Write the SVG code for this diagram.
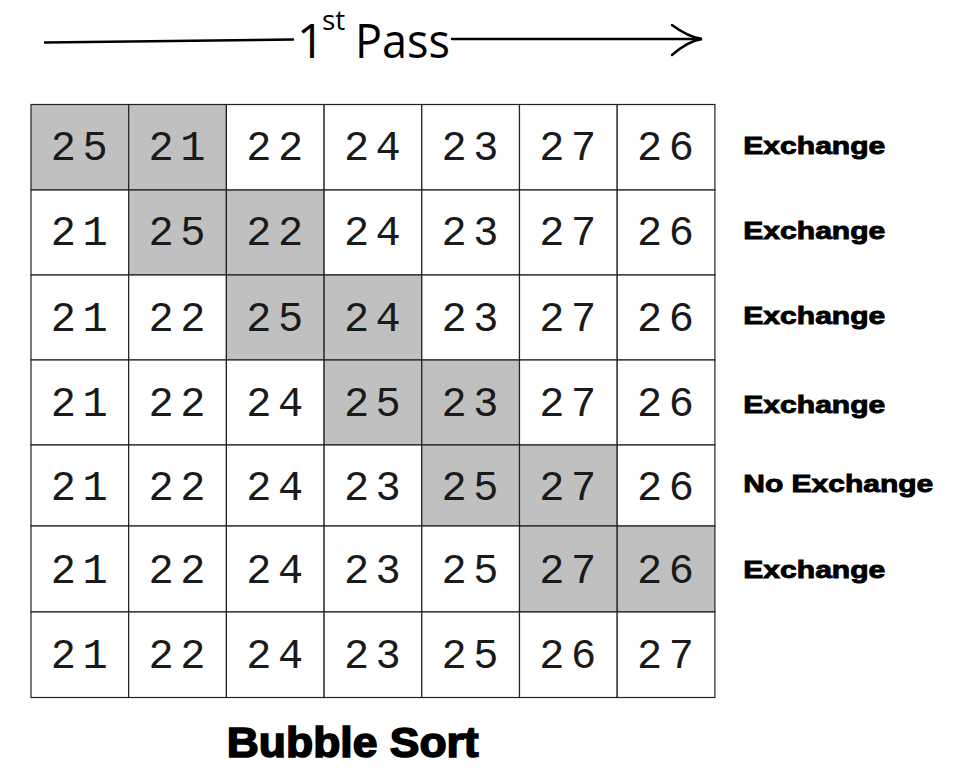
<svg xmlns="http://www.w3.org/2000/svg" width="957" height="774" viewBox="0 0 957 774">
<style>
.cell{fill:#ffffff;stroke:#222222;stroke-width:1.2}
.hl{fill:#c0c0c0}
.num{font-family:"Liberation Mono","Courier New",monospace;font-size:42px;fill:#1a1a1a;letter-spacing:6.5px}
.lbl{font-family:"Liberation Sans",Arial,sans-serif;font-weight:bold;font-size:24px;fill:#000000;stroke:#000000;stroke-width:0.9}
.title{font-family:"Open Sans","Noto Sans",sans-serif;fill:#000000}
.cap{font-family:"Liberation Sans",Arial,sans-serif;font-weight:bold;font-size:42px;fill:#000000;stroke:#000000;stroke-width:1.6}
.ln{stroke:#000000;stroke-width:2.5;fill:none;stroke-linecap:round}
</style>
<g id="header">
<text class="title" x="297" y="58" font-size="48">1</text>
<text class="title" x="322" y="30" font-size="28">st</text>
<text class="title" x="355" y="58" font-size="48" textLength="95" lengthAdjust="spacingAndGlyphs">Pass</text>
</g>
<g id="connectors">
<path class="ln" d="M45,42.5 L293,39.5"/>
<path class="ln" d="M452,39 L700,39"/>
<path class="ln" stroke-width="3" d="M672,25 Q688,37 702,39 Q688,41 672,55"/>
</g>
<g id="grid">
<g id="r1c1"><rect class="cell hl" x="31" y="104.5" width="97.7" height="85.5"/><text class="num" x="50.8" y="160">25</text></g>
<g id="r1c2"><rect class="cell hl" x="128.7" y="104.5" width="97.7" height="85.5"/><text class="num" x="148.5" y="160">21</text></g>
<g id="r1c3"><rect class="cell" x="226.4" y="104.5" width="97.7" height="85.5"/><text class="num" x="246.2" y="160">22</text></g>
<g id="r1c4"><rect class="cell" x="324.1" y="104.5" width="97.7" height="85.5"/><text class="num" x="343.9" y="160">24</text></g>
<g id="r1c5"><rect class="cell" x="421.8" y="104.5" width="97.7" height="85.5"/><text class="num" x="441.6" y="160">23</text></g>
<g id="r1c6"><rect class="cell" x="519.5" y="104.5" width="97.7" height="85.5"/><text class="num" x="539.3" y="160">27</text></g>
<g id="r1c7"><rect class="cell" x="617.2" y="104.5" width="97.7" height="85.5"/><text class="num" x="637" y="160">26</text></g>
<g id="r2c1"><rect class="cell" x="31" y="190" width="97.7" height="85"/><text class="num" x="50.8" y="245">21</text></g>
<g id="r2c2"><rect class="cell hl" x="128.7" y="190" width="97.7" height="85"/><text class="num" x="148.5" y="245">25</text></g>
<g id="r2c3"><rect class="cell hl" x="226.4" y="190" width="97.7" height="85"/><text class="num" x="246.2" y="245">22</text></g>
<g id="r2c4"><rect class="cell" x="324.1" y="190" width="97.7" height="85"/><text class="num" x="343.9" y="245">24</text></g>
<g id="r2c5"><rect class="cell" x="421.8" y="190" width="97.7" height="85"/><text class="num" x="441.6" y="245">23</text></g>
<g id="r2c6"><rect class="cell" x="519.5" y="190" width="97.7" height="85"/><text class="num" x="539.3" y="245">27</text></g>
<g id="r2c7"><rect class="cell" x="617.2" y="190" width="97.7" height="85"/><text class="num" x="637" y="245">26</text></g>
<g id="r3c1"><rect class="cell" x="31" y="275" width="97.7" height="85"/><text class="num" x="50.8" y="330.5">21</text></g>
<g id="r3c2"><rect class="cell" x="128.7" y="275" width="97.7" height="85"/><text class="num" x="148.5" y="330.5">22</text></g>
<g id="r3c3"><rect class="cell hl" x="226.4" y="275" width="97.7" height="85"/><text class="num" x="246.2" y="330.5">25</text></g>
<g id="r3c4"><rect class="cell hl" x="324.1" y="275" width="97.7" height="85"/><text class="num" x="343.9" y="330.5">24</text></g>
<g id="r3c5"><rect class="cell" x="421.8" y="275" width="97.7" height="85"/><text class="num" x="441.6" y="330.5">23</text></g>
<g id="r3c6"><rect class="cell" x="519.5" y="275" width="97.7" height="85"/><text class="num" x="539.3" y="330.5">27</text></g>
<g id="r3c7"><rect class="cell" x="617.2" y="275" width="97.7" height="85"/><text class="num" x="637" y="330.5">26</text></g>
<g id="r4c1"><rect class="cell" x="31" y="360" width="97.7" height="85"/><text class="num" x="50.8" y="415.7">21</text></g>
<g id="r4c2"><rect class="cell" x="128.7" y="360" width="97.7" height="85"/><text class="num" x="148.5" y="415.7">22</text></g>
<g id="r4c3"><rect class="cell" x="226.4" y="360" width="97.7" height="85"/><text class="num" x="246.2" y="415.7">24</text></g>
<g id="r4c4"><rect class="cell hl" x="324.1" y="360" width="97.7" height="85"/><text class="num" x="343.9" y="415.7">25</text></g>
<g id="r4c5"><rect class="cell hl" x="421.8" y="360" width="97.7" height="85"/><text class="num" x="441.6" y="415.7">23</text></g>
<g id="r4c6"><rect class="cell" x="519.5" y="360" width="97.7" height="85"/><text class="num" x="539.3" y="415.7">27</text></g>
<g id="r4c7"><rect class="cell" x="617.2" y="360" width="97.7" height="85"/><text class="num" x="637" y="415.7">26</text></g>
<g id="r5c1"><rect class="cell" x="31" y="445" width="97.7" height="81"/><text class="num" x="50.8" y="500">21</text></g>
<g id="r5c2"><rect class="cell" x="128.7" y="445" width="97.7" height="81"/><text class="num" x="148.5" y="500">22</text></g>
<g id="r5c3"><rect class="cell" x="226.4" y="445" width="97.7" height="81"/><text class="num" x="246.2" y="500">24</text></g>
<g id="r5c4"><rect class="cell" x="324.1" y="445" width="97.7" height="81"/><text class="num" x="343.9" y="500">23</text></g>
<g id="r5c5"><rect class="cell hl" x="421.8" y="445" width="97.7" height="81"/><text class="num" x="441.6" y="500">25</text></g>
<g id="r5c6"><rect class="cell hl" x="519.5" y="445" width="97.7" height="81"/><text class="num" x="539.3" y="500">27</text></g>
<g id="r5c7"><rect class="cell" x="617.2" y="445" width="97.7" height="81"/><text class="num" x="637" y="500">26</text></g>
<g id="r6c1"><rect class="cell" x="31" y="526" width="97.7" height="86"/><text class="num" x="50.8" y="583.3">21</text></g>
<g id="r6c2"><rect class="cell" x="128.7" y="526" width="97.7" height="86"/><text class="num" x="148.5" y="583.3">22</text></g>
<g id="r6c3"><rect class="cell" x="226.4" y="526" width="97.7" height="86"/><text class="num" x="246.2" y="583.3">24</text></g>
<g id="r6c4"><rect class="cell" x="324.1" y="526" width="97.7" height="86"/><text class="num" x="343.9" y="583.3">23</text></g>
<g id="r6c5"><rect class="cell" x="421.8" y="526" width="97.7" height="86"/><text class="num" x="441.6" y="583.3">25</text></g>
<g id="r6c6"><rect class="cell hl" x="519.5" y="526" width="97.7" height="86"/><text class="num" x="539.3" y="583.3">27</text></g>
<g id="r6c7"><rect class="cell hl" x="617.2" y="526" width="97.7" height="86"/><text class="num" x="637" y="583.3">26</text></g>
<g id="r7c1"><rect class="cell" x="31" y="612" width="97.7" height="85.5"/><text class="num" x="50.8" y="668.3">21</text></g>
<g id="r7c2"><rect class="cell" x="128.7" y="612" width="97.7" height="85.5"/><text class="num" x="148.5" y="668.3">22</text></g>
<g id="r7c3"><rect class="cell" x="226.4" y="612" width="97.7" height="85.5"/><text class="num" x="246.2" y="668.3">24</text></g>
<g id="r7c4"><rect class="cell" x="324.1" y="612" width="97.7" height="85.5"/><text class="num" x="343.9" y="668.3">23</text></g>
<g id="r7c5"><rect class="cell" x="421.8" y="612" width="97.7" height="85.5"/><text class="num" x="441.6" y="668.3">25</text></g>
<g id="r7c6"><rect class="cell" x="519.5" y="612" width="97.7" height="85.5"/><text class="num" x="539.3" y="668.3">26</text></g>
<g id="r7c7"><rect class="cell" x="617.2" y="612" width="97.7" height="85.5"/><text class="num" x="637" y="668.3">27</text></g>
</g>
<g id="labels">
<text class="lbl" x="743.3" y="153.5" textLength="142" lengthAdjust="spacingAndGlyphs">Exchange</text>
<text class="lbl" x="743.3" y="238.5" textLength="142" lengthAdjust="spacingAndGlyphs">Exchange</text>
<text class="lbl" x="743.3" y="323.5" textLength="142" lengthAdjust="spacingAndGlyphs">Exchange</text>
<text class="lbl" x="743.3" y="413.3" textLength="142" lengthAdjust="spacingAndGlyphs">Exchange</text>
<text class="lbl" x="743.3" y="491.7" textLength="190" lengthAdjust="spacingAndGlyphs">No Exchange</text>
<text class="lbl" x="743.3" y="578" textLength="142" lengthAdjust="spacingAndGlyphs">Exchange</text>
</g>
<g id="caption">
<text class="cap" x="226.7" y="756.7" textLength="252" lengthAdjust="spacingAndGlyphs">Bubble Sort</text>
</g>
</svg>
